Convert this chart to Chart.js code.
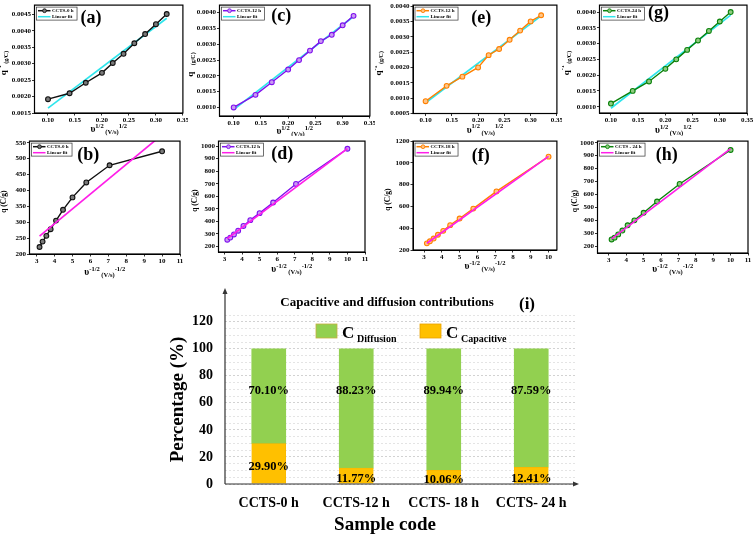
<!DOCTYPE html>
<html>
<head>
<meta charset="utf-8">
<script src="https://cdn.jsdelivr.net/npm/chart.js@4.4.0/dist/chart.umd.min.js"></script>
<style>
body { margin: 0; background: #fff; }
#page { position: relative; width: 755px; height: 537px; overflow: hidden; background: #fff; }
canvas { position: absolute; }
</style>
</head>
<body>
<div id="page">
  <canvas id="a"></canvas><canvas id="c"></canvas><canvas id="e"></canvas><canvas id="g"></canvas>
  <canvas id="b"></canvas><canvas id="d"></canvas><canvas id="f"></canvas><canvas id="h"></canvas>
  <canvas id="i"></canvas>
</div>
<script>
// ---- data ----
var sqrtRate = [0.10, 0.14, 0.17, 0.20, 0.22, 0.24, 0.26, 0.28, 0.30, 0.32];
var invSqrtRate = [3.16, 3.33, 3.54, 3.78, 4.08, 4.47, 5.00, 5.77, 7.07, 10.00];

var invQ0h = [0.00192, 0.0021, 0.00242, 0.00272, 0.00302, 0.0033, 0.00362, 0.0039, 0.0042, 0.00451];
var invQ12h = [0.0010, 0.0014, 0.0018, 0.0022, 0.0025, 0.0028, 0.0031, 0.0033, 0.0036, 0.0039];
var invQ18h = [0.0009, 0.0014, 0.0017, 0.0020, 0.0024, 0.0026, 0.0029, 0.0032, 0.0035, 0.0037];
var invQ24h = [0.0011, 0.0015, 0.0018, 0.0022, 0.0025, 0.0028, 0.0031, 0.0034, 0.0037, 0.0040];
var invQFit0h = [0.00165, 0.00438];
var invQFit12h = [0.00093, 0.00388];
var invQFit18h = [0.00085, 0.00368];
var invQFit24h = [0.00095, 0.0039];

var q0h = [222, 239, 257, 278, 305, 339, 378, 425, 479, 523];
var q12h = [253, 270, 295, 325, 363, 409, 465, 550, 698, 979];
var q18h = [261, 280, 305, 340, 376, 428, 489, 580, 738, 1057];
var q24h = [251, 265, 290, 320, 361, 399, 458, 545, 681, 944];
var qFit0h = [256, 575];
var qFit12h = [262, 980];
var qFit18h = [262, 1060];
var qFit24h = [255, 955];

var samples = ['CCTS-0 h', 'CCTS-12 h', 'CCTS- 18 h', 'CCTS- 24 h'];
var capacitive = [29.90, 11.77, 10.06, 12.41];
var diffusion = [70.10, 88.23, 89.94, 87.59];
var pctTicks = [0, 20, 40, 60, 80, 100, 120];

// ---- layout: canvas box and plot area, page pixels ----
var layout = {
  a: {canvas: [0, 0, 188, 136], area: [34.5, 4, 183, 113]},
  c: {canvas: [188, 0, 187, 136], area: [219.5, 4, 373, 116]},
  e: {canvas: [375, 0, 187, 136], area: [413, 4, 559, 113.5]},
  g: {canvas: [562, 0, 193, 136], area: [599.5, 3, 747, 113]},
  b: {canvas: [0, 136, 188, 150], area: [29.5, 140, 180, 254]},
  d: {canvas: [188, 136, 187, 150], area: [218.5, 140, 365, 252]},
  f: {canvas: [375, 136, 187, 150], area: [413, 140, 557, 250]},
  h: {canvas: [562, 136, 193, 150], area: [597.5, 140, 748, 253]},
  i: {canvas: [150, 286, 440, 251], area: [225, 315, 575, 484]}
};

var SERIF = '"Liberation Serif", "Times New Roman", serif';
Chart.defaults.font.family = SERIF;
Chart.defaults.color = '#000';
Chart.defaults.animation = false;

function xy(xs, ys) { return xs.map(function (x, i) { return {x: x, y: ys[i]}; }); }
function ends(xs, fit) { return [{x: xs[0], y: fit[0]}, {x: xs[xs.length - 1], y: fit[1]}]; }

function fixSize(dim, size) {
  return function (s) {
    s[dim] = size;
    s.paddingLeft = s.paddingRight = s.paddingTop = s.paddingBottom = 0;
  };
}

function place(key) {
  var L = layout[key], c = document.getElementById(key);
  c.width = L.canvas[2]; c.height = L.canvas[3];
  c.style.left = L.canvas[0] + 'px'; c.style.top = L.canvas[1] + 'px';
  return {
    ml: L.area[0] - L.canvas[0], mt: L.area[1] - L.canvas[1],
    mr: L.canvas[0] + L.canvas[2] - L.area[2], mb: L.canvas[1] + L.canvas[3] - L.area[3]
  };
}

function richText(ctx, segs, cx, cy, rot) {
  ctx.save();
  ctx.translate(cx, cy);
  ctx.rotate(rot || 0);
  ctx.textAlign = 'left';
  ctx.textBaseline = 'alphabetic';
  var w = 0;
  segs.forEach(function (s) { ctx.font = 'bold ' + s[1] + 'px ' + SERIF; w += ctx.measureText(s[0]).width; });
  var x = -w / 2;
  segs.forEach(function (s) {
    ctx.font = 'bold ' + s[1] + 'px ' + SERIF;
    ctx.fillText(s[0], x, s[2]);
    x += ctx.measureText(s[0]).width;
  });
  ctx.restore();
}

var xTitleTop = [['υ', 9.5, 0], ['1/2', 6.5, -4.5], [' (V/s)', 6.5, 2], ['1/2', 6.5, -4.5]];
var xTitleBot = [['υ', 9.5, 0], ['-1/2', 6.5, -4.5], [' (V/s)', 6.5, 2], ['-1/2', 6.5, -4.5]];
var yTitleTop = [['q', 9, 0], ['-1', 6, -4.5], [' (g/C)', 6, 2]];
var yTitleBot = [['q (C/g)', 7.5, 0]];

// border box, panel tag, legend and axis titles of the small panels
var panelDecor = {
  id: 'panelDecor',
  afterDraw: function (chart, args, o) {
    var ctx = chart.ctx, a = chart.chartArea;
    var w = a.right - a.left, h = a.bottom - a.top;
    ctx.save();
    ctx.strokeStyle = '#000';
    ctx.lineWidth = 1.2;
    ctx.strokeRect(a.left, a.top, w, h);

    ctx.fillStyle = '#000';
    ctx.font = 'bold 18px ' + SERIF;
    ctx.textAlign = 'center';
    ctx.textBaseline = 'middle';
    ctx.fillText(o.tag, a.left + o.tagPos[0] * w, a.top + o.tagPos[1] * h);

    // legend box
    ctx.font = 'bold 5px ' + SERIF;
    var tw = Math.max(ctx.measureText(o.name).width, ctx.measureText('Linear fit').width);
    var lx = a.left + 2, ly = a.top + 2, lw = tw + 19, lh = 13;
    ctx.fillStyle = '#fff';
    ctx.fillRect(lx, ly, lw, lh);
    ctx.lineWidth = 0.7;
    ctx.strokeStyle = '#333';
    ctx.strokeRect(lx, ly, lw, lh);
    var rows = [[o.name, o.color, true], ['Linear fit', o.fitColor, false]];
    rows.forEach(function (r, k) {
      var yy = ly + 3.6 + k * 6;
      ctx.strokeStyle = r[1];
      ctx.lineWidth = 1.5;
      ctx.beginPath(); ctx.moveTo(lx + 1.5, yy); ctx.lineTo(lx + 14, yy); ctx.stroke();
      if (r[2]) {
        ctx.beginPath(); ctx.arc(lx + 8, yy, 1.9, 0, Math.PI * 2);
        ctx.fillStyle = o.fill; ctx.fill();
        ctx.lineWidth = 0.9; ctx.stroke();
      }
      ctx.fillStyle = '#000';
      ctx.textAlign = 'left';
      ctx.fillText(r[0], lx + 15.5, yy + 0.3);
    });

    ctx.fillStyle = '#000';
    richText(ctx, o.xTitle, (a.left + a.right) / 2, a.bottom + o.xGap, 0);
    richText(ctx, o.yTitle, a.left - o.yGap, (a.top + a.bottom) / 2 + 4, -Math.PI / 2);
    ctx.restore();
  }
};

function smallPanel(key, p) {
  var m = place(key);
  var tickFont = {size: 7, weight: 'bold'};
  var axisGrid = {drawOnChartArea: false, tickLength: 2.5, color: '#000', lineWidth: 0.8};
  new Chart(document.getElementById(key), {
    type: 'scatter',
    data: {
      datasets: [
        {data: xy(p.xs, p.ys), showLine: true, borderColor: p.style.color, borderWidth: 1.4,
         pointRadius: 2.4, pointBorderWidth: 1.1, pointBorderColor: p.style.color,
         pointBackgroundColor: p.style.fill, order: p.fitOnTop ? 1 : 0},
        {data: ends(p.xs, p.fit), showLine: true, borderColor: p.fitColor, borderWidth: 1.7,
         pointRadius: 0, order: p.fitOnTop ? 0 : 1}
      ]
    },
    options: {
      responsive: false,
      animation: false,
      layout: {padding: {left: 0, top: m.mt, right: m.mr, bottom: 0}},
      plugins: {
        legend: {display: false},
        tooltip: {enabled: false},
        panelDecor: {
          tag: p.tag, tagPos: p.tagPos, name: p.name, color: p.style.color, fill: p.style.fill,
          fitColor: p.fitColor, xTitle: p.xTitle, yTitle: p.yTitle, xGap: p.xGap, yGap: p.yGap
        }
      },
      scales: {
        x: {
          type: 'linear', min: p.x[0], max: p.x[1],
          afterFit: fixSize('height', m.mb),
          ticks: {stepSize: p.x[2], font: tickFont, padding: 0, maxRotation: 0, autoSkip: false,
                  includeBounds: false,
                  callback: function (v) { return p.x[3] ? v.toFixed(p.x[3]) : v; }},
          grid: axisGrid,
          border: {color: '#000', width: 1}
        },
        y: {
          min: p.y[0], max: p.y[1],
          afterFit: fixSize('width', m.ml),
          ticks: {stepSize: p.y[2], font: tickFont, padding: 1, autoSkip: false, includeBounds: false,
                  callback: function (v) { return p.y[3] ? v.toFixed(p.y[3]) : v; }},
          grid: axisGrid,
          border: {color: '#000', width: 1}
        }
      }
    },
    plugins: [panelDecor]
  });
}

var black = {color: '#111', fill: '#7a7a7a'};
var purple = {color: '#7F10EE', fill: '#C99AF2'};
var orange = {color: '#FF8000', fill: '#FFC587'};
var green = {color: '#0B820B', fill: '#8FCB80'};
var cyan = '#2FE5EC';
var magenta = '#FF1EE8';

smallPanel('a', {xs: sqrtRate, ys: invQ0h, fit: invQFit0h, style: black, fitColor: cyan, name: 'CCTS-0 h',
  tag: '(a)', tagPos: [0.38, 0.12], x: [0.075, 0.35, 0.05, 2], y: [0.0015, 0.00478, 0.0005, 4],
  xTitle: xTitleTop, yTitle: yTitleTop, xGap: 19, yGap: 29});
smallPanel('c', {xs: sqrtRate, ys: invQ12h, fit: invQFit12h, style: purple, fitColor: cyan, name: 'CCTS-12 h',
  tag: '(c)', tagPos: [0.41, 0.1], x: [0.074, 0.35, 0.05, 2], y: [0.00073, 0.00424, 0.0005, 4],
  xTitle: xTitleTop, yTitle: yTitleTop, xGap: 18, yGap: 27});
smallPanel('e', {xs: sqrtRate, ys: invQ18h, fit: invQFit18h, style: orange, fitColor: cyan, name: 'CCTS-12 h',
  tag: '(e)', tagPos: [0.475, 0.12], x: [0.076, 0.35, 0.05, 2], y: [0.0005, 0.00403, 0.0005, 4],
  xTitle: xTitleTop, yTitle: yTitleTop, xGap: 19, yGap: 32});
smallPanel('g', {xs: sqrtRate, ys: invQ24h, fit: invQFit24h, style: green, fitColor: cyan, name: 'CCTS-24 h',
  tag: '(g)', tagPos: [0.4, 0.08], x: [0.079, 0.35, 0.05, 2], y: [0.0008, 0.00422, 0.0005, 4],
  xTitle: xTitleTop, yTitle: yTitleTop, xGap: 20, yGap: 31});

smallPanel('b', {xs: invSqrtRate, ys: q0h, fit: qFit0h, style: black, fitColor: magenta, name: 'CCTS-0 h',
  tag: '(b)', tagPos: [0.39, 0.13], x: [2.6, 11, 1, 0], y: [200, 555, 50, 0], fitOnTop: true,
  xTitle: xTitleBot, yTitle: yTitleBot, xGap: 21, yGap: 24});
smallPanel('d', {xs: invSqrtRate, ys: q12h, fit: qFit12h, style: purple, fitColor: magenta, name: 'CCTS-12 h',
  tag: '(d)', tagPos: [0.435, 0.12], x: [2.66, 11, 1, 0], y: [155, 1040, 100, 0], fitOnTop: true,
  xTitle: xTitleBot, yTitle: yTitleBot, xGap: 20, yGap: 22});
smallPanel('f', {xs: invSqrtRate, ys: q18h, fit: qFit18h, style: orange, fitColor: magenta, name: 'CCTS-18 h',
  tag: '(f)', tagPos: [0.47, 0.14], x: [2.38, 10.47, 1, 0], y: [200, 1200, 200, 0], fitOnTop: true,
  xTitle: xTitleBot, yTitle: yTitleBot, xGap: 19, yGap: 23});
smallPanel('h', {xs: invSqrtRate, ys: q24h, fit: qFit24h, style: green, fitColor: magenta, name: 'CCTS - 24 h',
  tag: '(h)', tagPos: [0.46, 0.13], x: [2.35, 11, 1, 0], y: [146, 1013, 100, 0], fitOnTop: true,
  xTitle: xTitleBot, yTitle: yTitleBot, xGap: 19, yGap: 21});

// ---- (i) stacked bars ----
var GREEN = '#92D050', ORANGE = '#FFC000';

var barDecor = {
  id: 'barDecor',
  afterDraw: function (chart) {
    var ctx = chart.ctx, a = chart.chartArea, ys = chart.scales.y;
    ctx.save();
    // axis lines with arrow heads
    ctx.strokeStyle = '#333';
    ctx.fillStyle = '#333';
    ctx.lineWidth = 1.2;
    ctx.beginPath();
    ctx.moveTo(a.left, a.bottom); ctx.lineTo(a.left, a.top - 23);
    ctx.moveTo(a.left, a.bottom); ctx.lineTo(a.right + 1, a.bottom);
    ctx.stroke();
    ctx.beginPath();
    ctx.moveTo(a.left, a.top - 27); ctx.lineTo(a.left - 2.5, a.top - 21); ctx.lineTo(a.left + 2.5, a.top - 21);
    ctx.fill();
    ctx.beginPath();
    ctx.moveTo(a.right + 4, a.bottom); ctx.lineTo(a.right - 2, a.bottom - 2.5); ctx.lineTo(a.right - 2, a.bottom + 2.5);
    ctx.fill();

    ctx.fillStyle = '#000';
    ctx.textAlign = 'center';
    ctx.textBaseline = 'middle';
    ctx.font = 'bold 13px ' + SERIF;
    ctx.fillText('Capacitive and diffusion contributions', a.left + 162, a.top - 12);
    ctx.font = 'bold 17px ' + SERIF;
    ctx.fillText('(i)', a.left + 302, a.top - 10);

    // legend
    var items = [[GREEN, '#C9B040', 'Diffusion', 91], [ORANGE, '#E8A000', 'Capacitive', 195]];
    items.forEach(function (it) {
      var x = a.left + it[3], y = a.top + 9;
      ctx.fillStyle = it[0];
      ctx.fillRect(x, y, 21, 14);
      ctx.strokeStyle = it[1];
      ctx.lineWidth = 0.8;
      ctx.strokeRect(x, y, 21, 14);
      ctx.fillStyle = '#000';
      ctx.textAlign = 'left';
      ctx.textBaseline = 'alphabetic';
      ctx.font = 'bold 17px ' + SERIF;
      ctx.fillText('C', x + 26, y + 14);
      ctx.font = 'bold 10px ' + SERIF;
      ctx.fillText(it[2], x + 41, y + 18);
    });

    // value labels
    ctx.textAlign = 'center';
    ctx.textBaseline = 'middle';
    ctx.font = 'bold 12.5px ' + SERIF;
    var bars = chart.getDatasetMeta(0).data;
    bars.forEach(function (bar, k) {
      var capY = ys.getPixelForValue(Math.max(capacitive[k] / 2 - 2.3, 3.2));
      ctx.fillText(capacitive[k].toFixed(2) + '%', bar.x, capY);
      ctx.fillText(diffusion[k].toFixed(2) + '%', bar.x, ys.getPixelForValue(69));
    });

    // axis titles
    ctx.font = 'bold 19px ' + SERIF;
    ctx.fillText('Sample code', a.left + 160, a.bottom + 41);
    ctx.translate(a.left - 47, (a.top + a.bottom) / 2);
    ctx.rotate(-Math.PI / 2);
    ctx.fillText('Percentage (%)', 0, 0);
    ctx.restore();
  }
};

(function () {
  var m = place('i');
  new Chart(document.getElementById('i'), {
    type: 'bar',
    data: {
      labels: samples,
      datasets: [
        {label: 'C Capacitive', data: capacitive, backgroundColor: ORANGE, borderColor: '#F2B000', borderWidth: 0.5},
        {label: 'C Diffusion', data: diffusion, backgroundColor: GREEN}
      ]
    },
    options: {
      responsive: false,
      animation: false,
      layout: {padding: {left: 0, top: m.mt, right: m.mr, bottom: 0}},
      datasets: {bar: {barThickness: 34}},
      plugins: {legend: {display: false}, tooltip: {enabled: false}},
      scales: {
        x: {
          stacked: true,
          afterFit: fixSize('height', m.mb),
          grid: {display: false, drawTicks: false},
          border: {display: false},
          ticks: {font: {size: 14, weight: 'bold'}, padding: 11, maxRotation: 0}
        },
        y: {
          stacked: true, min: 0, max: 125,
          afterFit: fixSize('width', m.ml),
          ticks: {stepSize: 5, autoSkip: false, font: {size: 14, weight: 'bold'}, padding: 12,
                  callback: function (v) { return pctTicks.indexOf(v) >= 0 ? v : ''; }},
          grid: {drawTicks: false, lineWidth: 1,
                 color: function (c) { return c.tick && c.tick.value % 20 === 0 ? '#d2d2d2' : '#e4e4e4'; }},
          border: {display: false, dash: [2, 2]}
        }
      }
    },
    plugins: [barDecor]
  });
})();
</script>
</body>
</html>
